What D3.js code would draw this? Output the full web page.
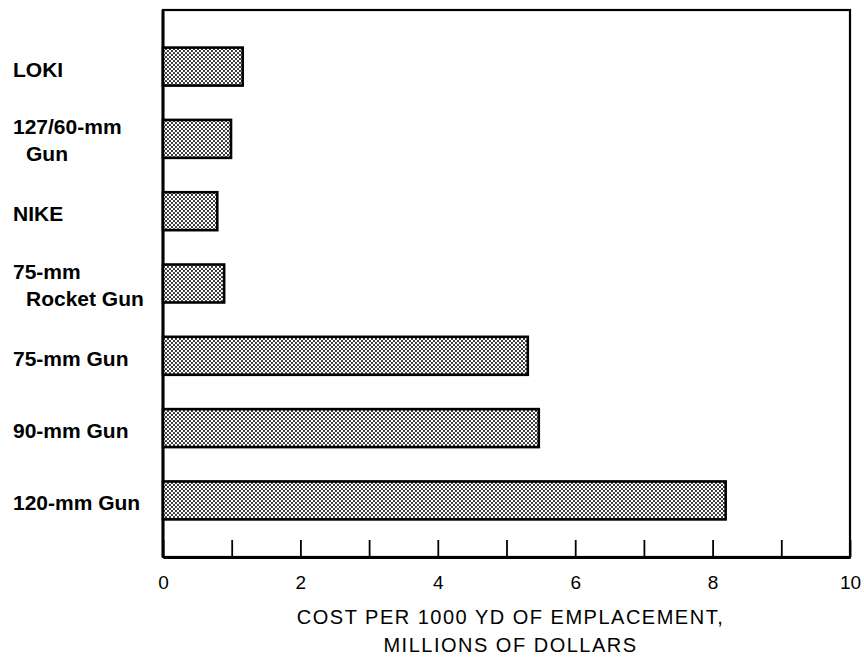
<!DOCTYPE html>
<html>
<head>
<meta charset="utf-8">
<script src="https://cdn.jsdelivr.net/npm/d3@7"></script>
<style>
  body { margin: 0; background: #fff; }
  svg { display: block; }
</style>
</head>
<body>
<div id="chart"></div>
<script>
// weapon systems, top to bottom
const categories = ['LOKI', '127/60-mm Gun', 'NIKE', '75-mm Rocket Gun', '75-mm Gun', '90-mm Gun', '120-mm Gun'];
// label lines as printed
const labelLines = [['LOKI'], ['127/60-mm', 'Gun'], ['NIKE'], ['75-mm', 'Rocket Gun'], ['75-mm Gun'], ['90-mm Gun'], ['120-mm Gun']];
// cost per 1000 yd of emplacement, millions of dollars
const costs = [1.16, 0.99, 0.79, 0.89, 5.31, 5.47, 8.19];
const tickValues = [0, 1, 2, 3, 4, 5, 6, 7, 8, 9, 10];
const titleLines = ['COST PER 1000 YD OF EMPLACEMENT,', 'MILLIONS OF DOLLARS'];

const width = 864, height = 659;
const margin = { top: 10, right: 14, bottom: 102, left: 163 };
const innerW = width - margin.left - margin.right;
const innerH = height - margin.top - margin.bottom;

const svg = d3.select('#chart').append('svg')
  .attr('width', width)
  .attr('height', height);

// stipple fill like the print screen
const defs = svg.append('defs');
const pat = defs.append('pattern')
  .attr('id', 'dots')
  .attr('patternUnits', 'userSpaceOnUse')
  .attr('width', 4)
  .attr('height', 4);
pat.append('rect').attr('width', 4).attr('height', 4).attr('fill', '#fff');
pat.append('circle').attr('cx', 1).attr('cy', 1).attr('r', 1.05).attr('fill', '#222');
pat.append('circle').attr('cx', 3).attr('cy', 3).attr('r', 1.05).attr('fill', '#222');

const g = svg.append('g').attr('transform', `translate(${margin.left},${margin.top})`);

const x = d3.scaleLinear().domain([0, 10]).range([0, innerW]);
const y = d3.scaleBand().domain(categories).range([0, innerH])
  .paddingInner(0.475).paddingOuter(0.52);

// frame
g.append('rect')
  .attr('x', 0).attr('y', 0)
  .attr('width', innerW).attr('height', innerH)
  .attr('fill', 'none')
  .attr('stroke', '#000')
  .attr('stroke-width', 2.2);
g.append('line')
  .attr('x1', 0).attr('x2', 0).attr('y1', 0).attr('y2', innerH)
  .attr('stroke', '#000').attr('stroke-width', 3);

// bars
g.selectAll('rect.bar')
  .data(categories)
  .enter()
  .append('rect')
  .attr('class', 'bar')
  .attr('x', 0)
  .attr('y', d => y(d))
  .attr('width', (d, i) => x(costs[i]))
  .attr('height', y.bandwidth())
  .attr('fill', 'url(#dots)')
  .attr('stroke', '#000')
  .attr('stroke-width', 2.6);

// bottom axis, ticks point up into the plot
const xAxis = g.append('g')
  .attr('transform', `translate(0,${innerH})`)
  .call(d3.axisBottom(x)
    .tickValues(tickValues)
    .tickSizeInner(-17)
    .tickSizeOuter(0)
    .tickPadding(19)
    .tickFormat(d => d % 2 === 0 ? d : ''));

xAxis.select('.domain').attr('stroke', '#000').attr('stroke-width', 3);
xAxis.selectAll('.tick line').attr('stroke', '#000').attr('stroke-width', 1.8);
xAxis.selectAll('.tick text')
  .style('font-family', '"Liberation Sans", Arial, sans-serif')
  .style('font-size', '19px')
  .style('fill', '#000');

// category labels
const labels = svg.append('g')
  .selectAll('text')
  .data(categories)
  .enter()
  .append('text')
  .attr('x', 13)
  .style('font-family', '"Liberation Sans", Arial, sans-serif')
  .style('font-weight', 'bold')
  .style('font-size', '21px')
  .style('fill', '#000');

labels.each(function (d, i) {
  const lines = labelLines[i];
  const cy = margin.top + y(d) + y.bandwidth() / 2;
  const t = d3.select(this);
  if (lines.length === 1) {
    t.append('tspan').attr('x', 13).attr('y', cy + 10).text(lines[0]);
  } else {
    t.append('tspan').attr('x', 13).attr('y', cy - 4.5).text(lines[0]);
    t.append('tspan').attr('x', 26).attr('y', cy + 22.5).text(lines[1]);
  }
});

// axis title
svg.append('g')
  .selectAll('text')
  .data(titleLines)
  .enter()
  .append('text')
  .attr('x', margin.left + innerW / 2 + 4)
  .attr('y', (d, i) => margin.top + innerH + 67 + i * 28)
  .attr('text-anchor', 'middle')
  .style('font-family', '"Liberation Sans", Arial, sans-serif')
  .style('font-size', '20px')
  .style('letter-spacing', '1.5px')
  .style('fill', '#000')
  .text(d => d);
</script>
</body>
</html>
